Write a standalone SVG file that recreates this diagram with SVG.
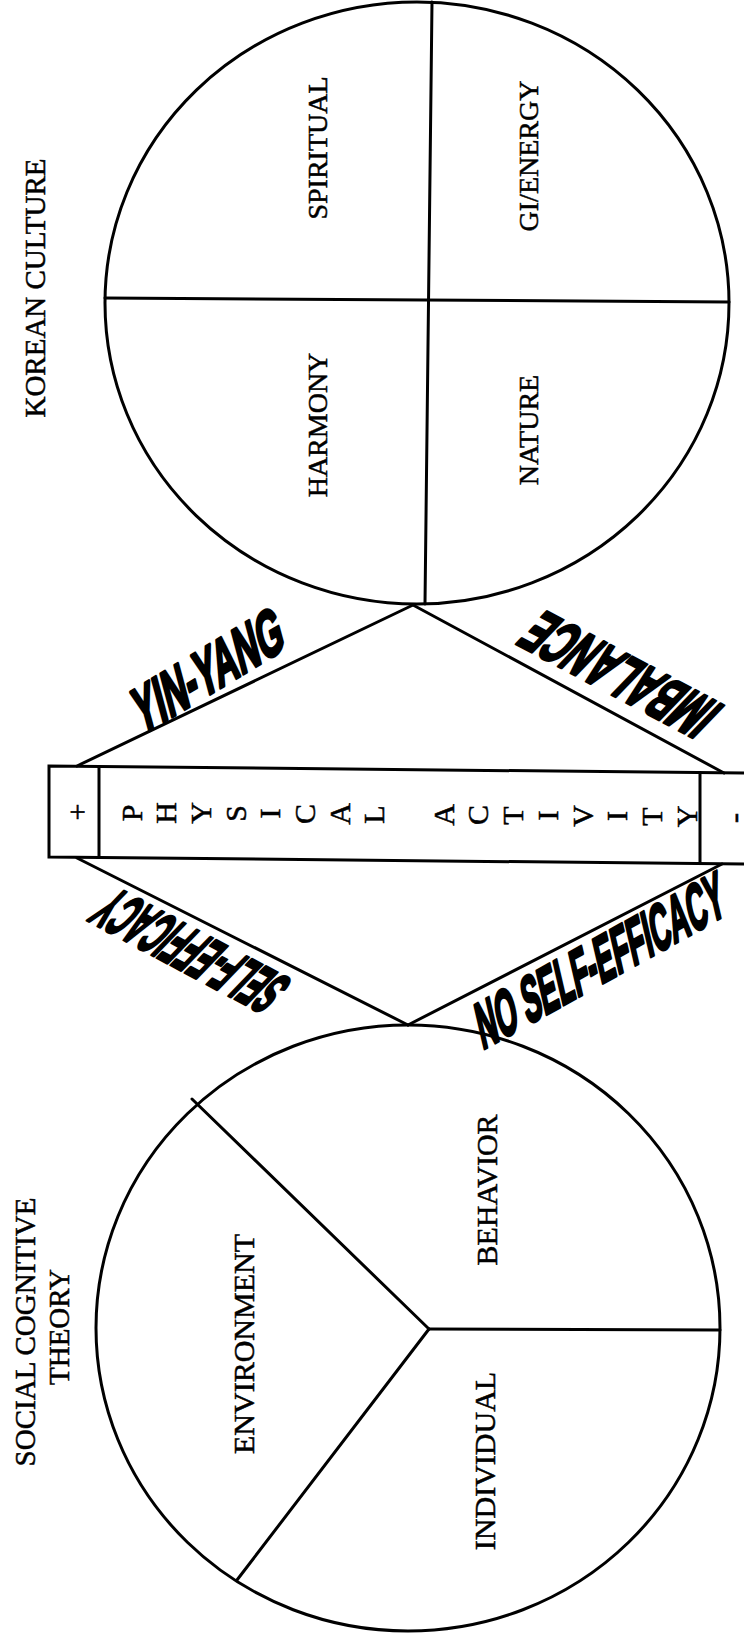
<svg xmlns="http://www.w3.org/2000/svg" width="744" height="1641" viewBox="0 0 744 1641">
<style>
.ln{fill:none;stroke:#000;stroke-width:3;stroke-linecap:round}
.lbl{font-family:'Liberation Serif','Times New Roman',serif;font-size:29px;fill:#000;stroke:#000;stroke-width:0.5;text-anchor:middle;dominant-baseline:central}
.sm{font-size:28px}
.lg{font-size:30px}
.heavy{font-family:'Liberation Sans Narrow','Liberation Sans',Arial,sans-serif;font-weight:bold;font-size:62px;fill:#000;stroke:#000;stroke-width:3.4;stroke-linejoin:round;text-anchor:middle;dominant-baseline:central}
.bar{font-family:'Liberation Serif','Times New Roman',serif;font-size:30px;fill:#000;stroke:#000;stroke-width:0.5;text-anchor:middle;dominant-baseline:central}
</style>
<rect width="744" height="1641" fill="#fff"/>

<g id="korean-culture">
  <ellipse class="ln" cx="417" cy="303" rx="312" ry="301"/>
  <line class="ln" x1="432" y1="2" x2="425" y2="604"/>
  <line class="ln" x1="105" y1="298" x2="729" y2="302"/>
  <text class="lbl" transform="translate(35,288) rotate(-90)">KOREAN CULTURE</text>
  <text class="lbl sm" transform="translate(317,148) rotate(-90)">SPIRITUAL</text>
  <text class="lbl sm" transform="translate(528,156) rotate(-90)">GI/ENERGY</text>
  <text class="lbl sm" transform="translate(317,425) rotate(-90)">HARMONY</text>
  <text class="lbl sm" transform="translate(528,430) rotate(-90)">NATURE</text>
</g>

<g id="physical-activity">
  <path class="ln" stroke-width="3.5" d="M744,773 L49,766 L49,857 L744,864"/>
  <line class="ln" x1="99" y1="766.5" x2="99" y2="857.5"/>
  <line class="ln" x1="700" y1="772.5" x2="700" y2="863.5"/>
  <text class="bar" transform="translate(76,812) rotate(-90)">+</text>
  <text class="bar" transform="translate(733,818) rotate(-90)">-</text>
  <text class="bar" transform="translate(131,813) rotate(-90)">P</text>
  <text class="bar" transform="translate(165.7,813) rotate(-90)">H</text>
  <text class="bar" transform="translate(200.4,813) rotate(-90)">Y</text>
  <text class="bar" transform="translate(235.1,813.5) rotate(-90)">S</text>
  <text class="bar" transform="translate(269.8,813.5) rotate(-90)">I</text>
  <text class="bar" transform="translate(304.4,814) rotate(-90)">C</text>
  <text class="bar" transform="translate(339.1,814) rotate(-90)">A</text>
  <text class="bar" transform="translate(373.8,814.5) rotate(-90)">L</text>
  <text class="bar" transform="translate(443.2,815) rotate(-90)">A</text>
  <text class="bar" transform="translate(477.9,815) rotate(-90)">C</text>
  <text class="bar" transform="translate(512.6,815.5) rotate(-90)">T</text>
  <text class="bar" transform="translate(547.3,815.5) rotate(-90)">I</text>
  <text class="bar" transform="translate(582,816) rotate(-90)">V</text>
  <text class="bar" transform="translate(616.6,816) rotate(-90)">I</text>
  <text class="bar" transform="translate(651.3,816.5) rotate(-90)">T</text>
  <text class="bar" transform="translate(686,816.5) rotate(-90)">Y</text>
</g>

<g id="social-cognitive-theory">
  <ellipse class="ln" cx="408" cy="1328" rx="312" ry="303"/>
  <line class="ln" x1="429" y1="1329" x2="192" y2="1099"/>
  <line class="ln" x1="429" y1="1329" x2="237" y2="1580"/>
  <line class="ln" x1="429" y1="1329" x2="720" y2="1330"/>
  <text class="lbl" transform="translate(25,1332) rotate(-90)">SOCIAL COGNITIVE</text>
  <text class="lbl" transform="translate(59,1327) rotate(-90)">THEORY</text>
  <text class="lbl lg" transform="translate(243,1344) rotate(-90)">ENVIRONMENT</text>
  <text class="lbl lg" transform="translate(486,1190) rotate(-90)">BEHAVIOR</text>
  <text class="lbl lg" transform="translate(484,1461) rotate(-90)">INDIVIDUAL</text>
</g>

<g id="connectors">
  <line class="ln" x1="77" y1="766" x2="413" y2="605"/>
  <line class="ln" x1="413" y1="605" x2="724" y2="773"/>
  <line class="ln" x1="77" y1="858" x2="408" y2="1025"/>
  <line class="ln" x1="408" y1="1025" x2="722" y2="864"/>
  <text class="heavy" textLength="170" lengthAdjust="spacingAndGlyphs" transform="translate(208,670) rotate(-31) skewX(-16)">YIN-YANG</text>
  <text class="heavy" textLength="205" lengthAdjust="spacingAndGlyphs" transform="translate(620,675) rotate(208) skewX(-16)">IMBALANCE</text>
  <text class="heavy" textLength="200" lengthAdjust="spacingAndGlyphs" transform="translate(190,951) rotate(208) skewX(-16)">SELF-EFFICACY</text>
  <text class="heavy" textLength="280" lengthAdjust="spacingAndGlyphs" transform="translate(600,960) rotate(-29) skewX(-16)">NO SELF-EFFICACY</text>
</g>
</svg>
